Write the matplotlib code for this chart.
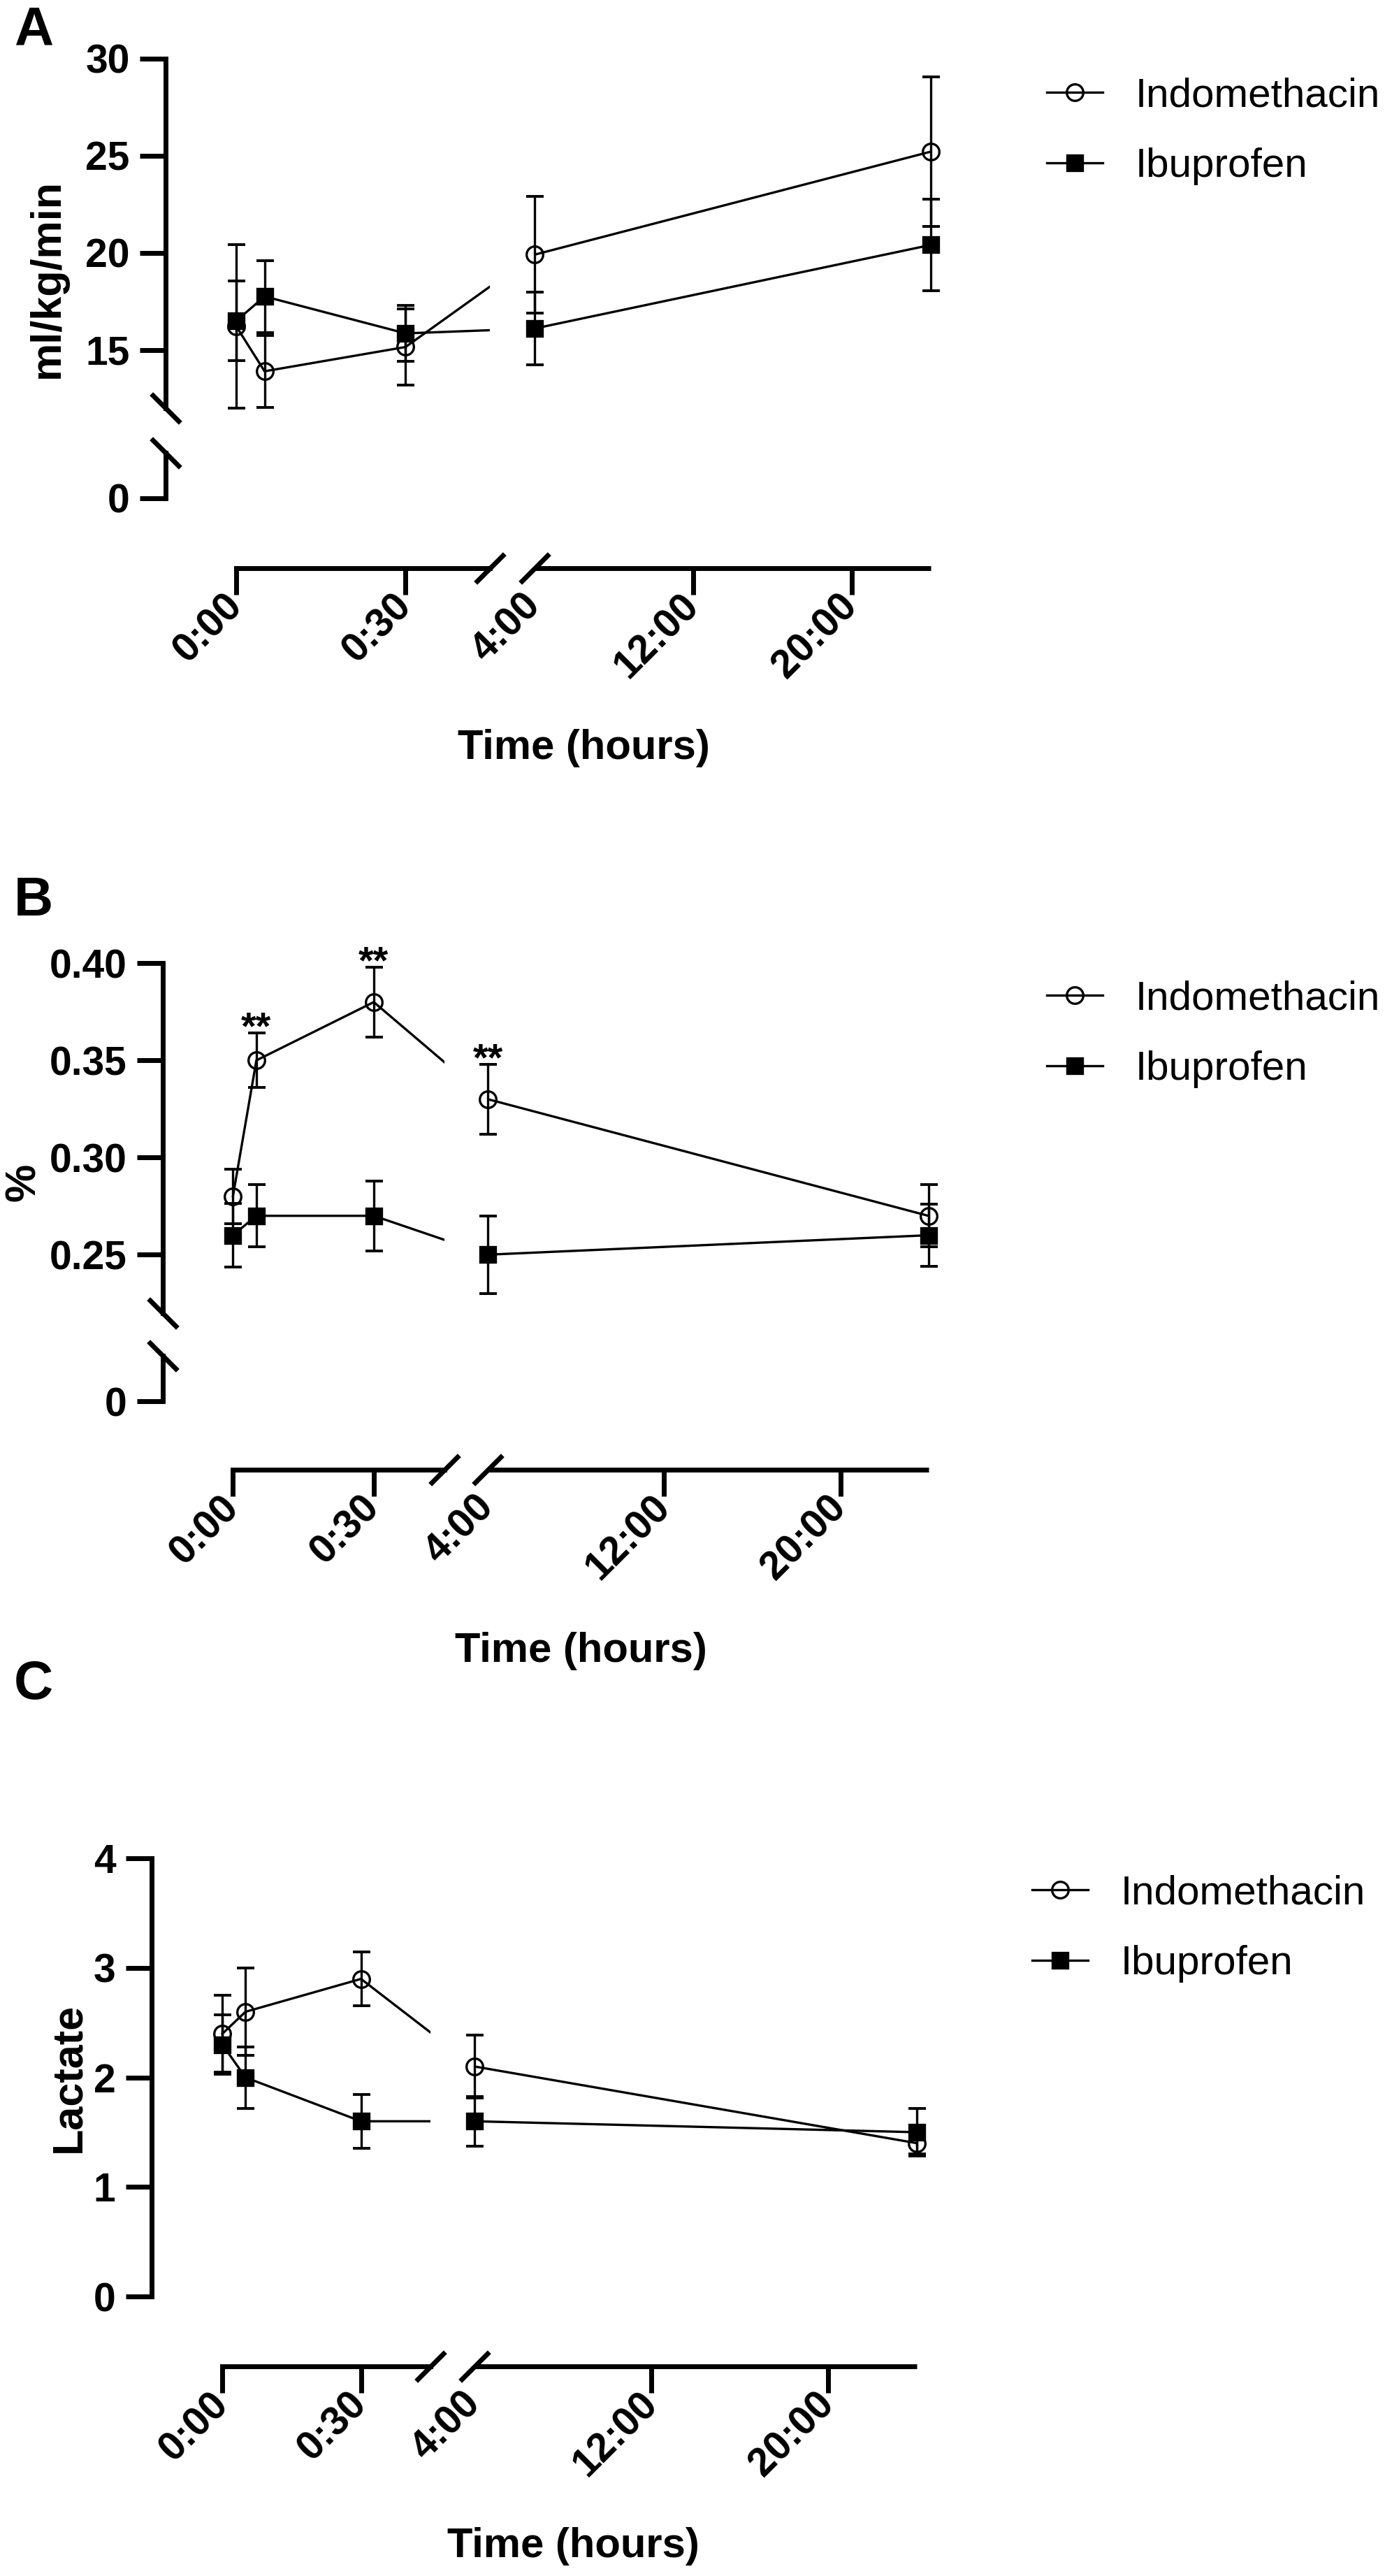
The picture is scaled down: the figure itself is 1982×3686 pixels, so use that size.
import numpy as np
import matplotlib
matplotlib.use('Agg')
import matplotlib.pyplot as plt
from matplotlib.path import Path
from matplotlib.patches import PathPatch
from matplotlib.transforms import blended_transform_factory

plt.rcParams['font.family'] = ['Liberation Sans', 'DejaVu Sans']

# tempos das coletas (horas): 0, 5 min, 30 min, 4 h, 24 h
tempos = [0, 0.0833, 0.5, 4, 24]
xticks = [0, 0.5, 4, 12, 20]
xtick_labels = ['0:00', '0:30', '4:00', '12:00', '20:00']

# A - fluxo (ml/kg/min)
indo_fluxo = [16.2, 13.9, 15.15, 19.9, 25.2]
indo_fluxo_sd = [4.2, 1.85, 1.95, 3.0, 3.85]
ibu_fluxo = [16.5, 17.75, 15.85, 16.1, 20.4]
ibu_fluxo_sd = [2.05, 1.85, 1.43, 1.87, 2.35]
yticks_a = [0, 15, 20, 25, 30]
ylabels_a = ['0', '15', '20', '25', '30']

# B - %
indo_pct = [0.28, 0.35, 0.38, 0.33, 0.27]
indo_pct_sd = [0.014, 0.014, 0.018, 0.018, 0.016]
ibu_pct = [0.26, 0.27, 0.27, 0.25, 0.26]
ibu_pct_sd = [0.0165, 0.016, 0.018, 0.020, 0.016]
yticks_b = [0, 0.25, 0.30, 0.35, 0.40]
ylabels_b = ['0', '0.25', '0.30', '0.35', '0.40']
sig_b = [1, 2, 3]  # pontos com **

# C - lactato
indo_lac = [2.4, 2.6, 2.9, 2.1, 1.4]
indo_lac_sd = [0.35, 0.4, 0.245, 0.285, 0.1]
ibu_lac = [2.3, 2.0, 1.6, 1.6, 1.5]
ibu_lac_sd = [0.27, 0.28, 0.245, 0.225, 0.22]
yticks_c = [0, 1, 2, 3, 4]
ylabels_c = ['0', '1', '2', '3', '4']

W, H = 1983, 3686
PT = 72 / 100  # pontos por pixel (dpi 100)
LW = 5


def piecewise(vals, pos):
    v = np.asarray(vals, float)
    p = np.asarray(pos, float)
    s0 = (p[1] - p[0]) / (v[1] - v[0])
    s1 = (p[-1] - p[-2]) / (v[-1] - v[-2])

    def fwd(x):
        x = np.asarray(x, float)
        return np.where(x < v[0], p[0] + (x - v[0]) * s0,
                        np.where(x > v[-1], p[-1] + (x - v[-1]) * s1, np.interp(x, v, p)))

    def inv(y):
        y = np.asarray(y, float)
        return np.where(y < p[0], v[0] + (y - p[0]) / s0,
                        np.where(y > p[-1], v[-1] + (y - p[-1]) / s1, np.interp(y, p, v)))
    return fwd, inv


def painel(fig, box, xpos, ybreak, ylim, yticks, ylabels, ylabel, ylabel_x,
           xoff, leg_xy, letra, letra_y, time_x, dados, sig=None):
    left, right, top, bottom = box
    w, h = right - left, bottom - top
    ax = fig.add_axes([left / W, 1 - bottom / H, w / W, h / H])

    fx, ix = piecewise([0, 0.75, 4, 24], [p - left for p in xpos])
    ax.set_xscale('function', functions=(fx, ix))
    ax.set_xlim(float(ix(0)), 24)
    if ybreak is not None:
        fy, iy = piecewise(ybreak[0], ybreak[1])
        ax.set_yscale('function', functions=(fy, iy))
    ax.set_ylim(*ylim)

    # recorte das linhas: some no intervalo 0:45 - 4:00
    tr = blended_transform_factory(ax.transData, ax.transAxes)
    x0 = float(ix(-200))
    clip = Path.make_compound_path(
        Path([(x0, -1), (0.75, -1), (0.75, 2), (x0, 2), (x0, -1)], closed=True),
        Path([(4, -1), (40, -1), (40, 2), (4, 2), (4, -1)], closed=True))
    clip_patch = PathPatch(clip, transform=tr, facecolor='none', edgecolor='none')

    handles = []
    for (m, s, mk, mfc, nome) in dados:
        ax.errorbar(tempos, m, yerr=s, fmt='none', ecolor='k', elinewidth=2.4,
                    capsize=9, capthick=2.8, clip_on=False, zorder=2)
        ln, = ax.plot(tempos, m, color='k', lw=2.4, zorder=3)
        ln.set_clip_path(clip_patch)
        ln.set_clip_box(None)
        pt, = ax.plot(tempos, m, linestyle='none', marker=mk, ms=16.5 if mk == 's' else 17,
                      mfc=mfc, mec='k', mew=2.4, zorder=4, clip_on=False)
        handles.append((ln, pt))

    if sig is not None:
        m, s = dados[0][0], dados[0][1]
        for i in sig:
            ax.annotate('**', xy=(tempos[i], m[i] + s[i]), xytext=(0, -6),
                        textcoords='offset points', ha='center', va='baseline',
                        fontsize=40, fontweight='bold')

    # eixos no estilo Prism
    for sp in ['top', 'right']:
        ax.spines[sp].set_visible(False)
    ax.spines['left'].set_linewidth(LW)
    ax.spines['bottom'].set_linewidth(LW)
    ax.spines['left'].set_capstyle('projecting')
    ax.spines['bottom'].set_capstyle('projecting')
    ax.spines['bottom'].set_position(('outward', xoff * PT))
    ax.spines['bottom'].set_bounds(0, 0.75)
    yfrac = -xoff / h
    ax.plot([4, 24], [yfrac, yfrac], transform=ax.get_xaxis_transform(), color='k',
            lw=LW, clip_on=False, solid_capstyle='butt')
    ax.plot([0.75, 4], [yfrac, yfrac], transform=ax.get_xaxis_transform(), linestyle='none',
            marker=[(-1, -1), (1, 1)], ms=30, mew=LW, mec='k', clip_on=False)
    if ybreak is not None:
        lo, hi = ybreak[0][1], ybreak[0][2]
        ax.spines['left'].set_bounds(hi, ylim[1])
        ax.plot([0, 0], [0, lo], transform=ax.get_yaxis_transform(), color='k', lw=LW,
                clip_on=False, solid_capstyle='projecting')
        ax.plot([0, 0], [lo, hi], transform=ax.get_yaxis_transform(), linestyle='none',
                marker=[(-1, 1), (1, -1)], ms=30, mew=LW, mec='k', clip_on=False)
    else:
        ax.spines['left'].set_bounds(*ylim)

    ax.set_xticks(xticks)
    ax.set_xticklabels(xtick_labels, rotation=45, ha='right', va='center',
                       rotation_mode='anchor', fontsize=41, fontweight='bold')
    ax.xaxis.get_major_ticks()[2].tick1line.set_visible(False)
    ax.set_yticks(yticks)
    ax.set_yticklabels(ylabels, fontsize=41, fontweight='bold')
    ax.minorticks_off()
    ax.tick_params(axis='both', direction='out', length=27, width=LW, color='k')
    ax.tick_params(axis='y', pad=10)
    ax.tick_params(axis='x', pad=6)

    ax.set_ylabel(ylabel, fontsize=44, fontweight='bold')
    ax.yaxis.set_label_coords((ylabel_x - left) / w, 0.5)
    ax.set_xlabel('Time (hours)', fontsize=43, fontweight='bold')
    ax.xaxis.set_label_coords((time_x - left) / w, -330 / h)

    ax.legend(handles=handles, labels=[d[4] for d in dados], loc='center left',
              bbox_to_anchor=(leg_xy[0] / W, 1 - leg_xy[1] / H),
              bbox_transform=fig.transFigure, frameon=False, fontsize=42,
              handlelength=1.37, handletextpad=0.8, labelspacing=0.8,
              borderpad=0, borderaxespad=0)
    fig.text(20 / W, 1 - letra_y / H, letra, fontsize=56, fontweight='bold',
             ha='left', va='center')
    return ax


fig = plt.figure(figsize=(W / 100, H / 100), dpi=100)

painel(fig, (237, 1332, 83.5, 712.7), [338.3, 701.5, 765, 1332],
       ([0, 2, 12, 30], [0, 64.7, 128.6, 629.2]), (0, 30), yticks_a, ylabels_a,
       'ml/kg/min', 97, 100, (1497.6, 188), 'A', 44, 835,
       [(indo_fluxo, indo_fluxo_sd, 'o', 'none', 'Indomethacin'),
        (ibu_fluxo, ibu_fluxo_sd, 's', 'k', 'Ibuprofen')])

painel(fig, (233, 1328.6, 1378.3, 2005), [333.3, 635.7, 698.3, 1328.6],
       ([0, 0.02, 0.22, 0.40], [0, 64.7, 126.3, 626.7]), (0, 0.40), yticks_b, ylabels_b,
       '%', 63, 98, (1497.6, 1480), 'B', 1290, 831,
       [(indo_pct, indo_pct_sd, 'o', 'none', 'Indomethacin'),
        (ibu_pct, ibu_pct_sd, 's', 'k', 'Ibuprofen')], sig=sig_b)

painel(fig, (216.7, 1312, 2659.3, 3286), [318.3, 615.8, 679.3, 1312],
       None, (0, 4), yticks_c, ylabels_c,
       'Lactate', 127, 100, (1477, 2760), 'C', 2410, 820,
       [(indo_lac, indo_lac_sd, 'o', 'none', 'Indomethacin'),
        (ibu_lac, ibu_lac_sd, 's', 'k', 'Ibuprofen')])

fig.savefig('out.png', dpi=100)
